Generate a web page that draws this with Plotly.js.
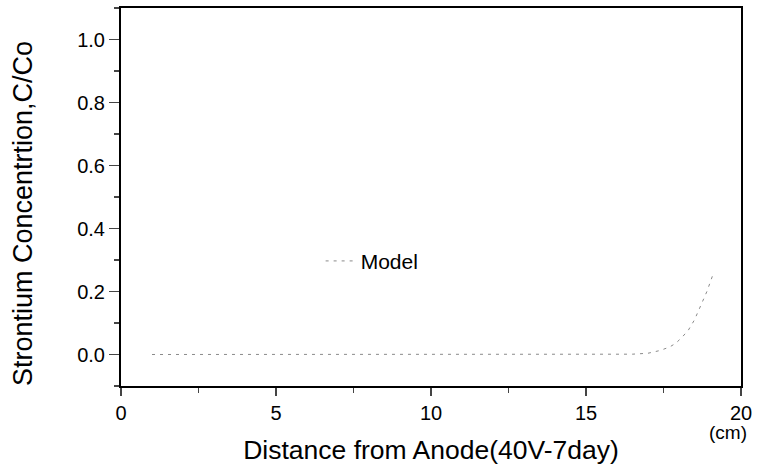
<!DOCTYPE html>
<html>
<head>
<meta charset="utf-8">
<script src="https://cdn.plot.ly/plotly-3.0.1.min.js"></script>
<style>html,body{margin:0;padding:0;background:#fff;}#chart{width:760px;height:466px;}</style>
</head>
<body>
<div id="chart"></div>
<script>
const seriesName = "Model";
const distance = [1, 2, 3, 4, 5, 6, 7, 8, 9, 10, 11, 12, 13, 14, 15, 16, 16.5, 17, 17.4, 17.7, 17.9, 18.1, 18.3, 18.5, 18.7, 18.9, 19.1];
const concentration = [0, 0, 0, 0, 0, 0, 0, 0, 0, 0, 0, 0, 0, 0, 0, 0.0005, 0.001, 0.004, 0.013, 0.024, 0.036, 0.055, 0.077, 0.11, 0.153, 0.2, 0.255];
const xTicks = [0, 5, 10, 15, 20];
const yTicks = [0.0, 0.2, 0.4, 0.6, 0.8, 1.0];
const yTickText = ["0.0", "0.2", "0.4", "0.6", "0.8", "1.0"];
const xTitle = "Distance from Anode(40V-7day)";
const yTitle = "Strontium Concentrtion,C/Co";
const unitLabel = "(cm)";

const font = "Liberation Sans, Arial, sans-serif";
const trace = {
  x: distance, y: concentration, type: "scatter", mode: "lines", name: seriesName,
  line: {color: "#8a8a8a", width: 1, dash: "3px,5px"}
};
const layout = {
  width: 760, height: 466,
  margin: {l: 121, r: 19, t: 8, b: 80},
  paper_bgcolor: "#fff", plot_bgcolor: "#fff",
  font: {family: font, color: "#000", size: 20},
  showlegend: true,
  legend: {x: 0.322, y: 0.33, xanchor: "left", yanchor: "middle", bgcolor: "rgba(0,0,0,0)", font: {size: 21, family: font}},
  xaxis: {
    range: [0, 20], tickvals: xTicks, ticks: "outside", ticklen: 8, tickwidth: 1.5,
    showline: true, linewidth: 2, linecolor: "#000", mirror: true, showgrid: false, zeroline: false,
    minor: {dtick: 2.5, ticks: "outside", ticklen: 5, tickwidth: 1.5, showgrid: false},
    tickfont: {size: 20},
    title: {text: xTitle, font: {size: 26.5}, standoff: 17}
  },
  yaxis: {
    range: [-0.1, 1.1], tickvals: yTicks, ticktext: yTickText, ticks: "outside", ticklen: 10, tickwidth: 1.5,
    showline: true, linewidth: 2, linecolor: "#000", mirror: true, showgrid: false, zeroline: false,
    minor: {dtick: 0.1, ticks: "outside", ticklen: 5, tickwidth: 1.5, showgrid: false},
    tickfont: {size: 20}
  },
  annotations: [
    {
      text: yTitle, xref: "paper", yref: "paper", x: -0.158, y: 0.455, xanchor: "center", yanchor: "middle",
      textangle: -90, showarrow: false, font: {size: 27, family: font}
    },
    {
      text: unitLabel, xref: "paper", yref: "paper", x: 0.979, y: -0.09, xanchor: "center", yanchor: "top",
      showarrow: false, font: {size: 19, family: font}
    }
  ]
};
Plotly.newPlot("chart", [trace], layout, {displayModeBar: false, staticPlot: true});
</script>
</body>
</html>
